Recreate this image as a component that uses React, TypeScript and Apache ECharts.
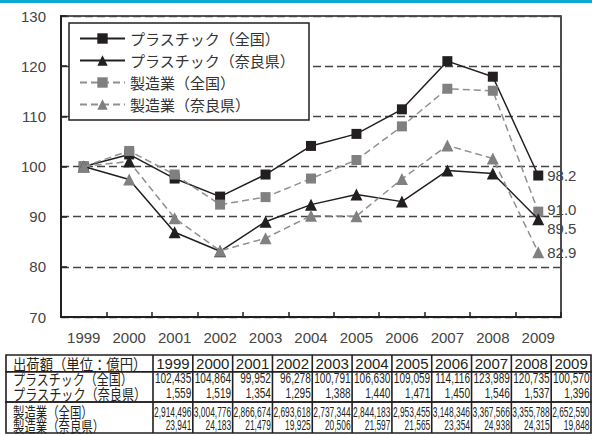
import React, { useEffect, useRef } from 'react';
import * as echarts from 'echarts';

// ---- data ----
const years = ['1999', '2000', '2001', '2002', '2003', '2004', '2005', '2006', '2007', '2008', '2009'];
const seriesNames = ['プラスチック（全国）', 'プラスチック（奈良県）', '製造業（全国）', '製造業（奈良県）'];
// index values (1999 = 100) as drawn in the chart
const plasticNationalIdx = [100, 102.4, 97.6, 94.0, 98.4, 104.1, 106.5, 111.4, 121.0, 117.9, 98.2];
const plasticNaraIdx = [100, 97.4, 86.9, 83.1, 89.0, 92.4, 94.4, 93.0, 99.2, 98.6, 89.5];
const mfgNationalIdx = [100, 103.1, 98.4, 92.4, 93.9, 97.6, 101.3, 108.0, 115.5, 115.1, 91.0];
const mfgNaraIdx = [100, 101.0, 89.7, 83.2, 85.7, 90.2, 90.1, 97.5, 104.2, 101.6, 82.9];
// table: shipment values (unit: 100 million yen)
const tableHeader = '出荷額（単位：億円）';
const rowLabels = ['プラスチック（全国）', 'プラスチック（奈良県）', '製造業（全国）', '製造業（奈良県）'];
const plasticNationalVal = [102435, 104864, 99952, 96278, 100791, 106630, 109059, 114116, 123989, 120735, 100570];
const plasticNaraVal = [1559, 1519, 1354, 1295, 1388, 1440, 1471, 1450, 1546, 1537, 1396];
const mfgNationalVal = [2914496, 3004776, 2866674, 2693618, 2737344, 2844183, 2953455, 3148346, 3367566, 3355788, 2652590];
const mfgNaraVal = [23941, 24183, 21479, 19925, 20506, 21597, 21565, 23354, 24938, 24315, 19848];
const yMin = 70;
const yMax = 130;
const yInterval = 10;

const BLACK = '#231f20';
const GRAY = '#808080';
const GRAY_LINE = '#8f8f8f';
const LABEL = '#444444';
const SANS = "'Liberation Sans', Arial, sans-serif";
const JP = "'Noto Sans CJK JP', sans-serif";

export default function App() {
  const ref = useRef<HTMLDivElement>(null);
  useEffect(() => {
    if (!ref.current) return;
    const chart = echarts.init(ref.current, null, { renderer: 'svg' });

    // ---- table graphic ----
    const tLeft = 6, c0 = 153, tRight = 591;
    const colW = (tRight - c0) / years.length;
    const r0 = 355, r1 = 371.7, r2 = 402, r3 = 433;
    const lw = 1.6;
    const g: any[] = [];
    g.push({ type: 'rect', shape: { x: 0, y: 0, width: 592, height: 3 }, style: { fill: '#0aa8d2' } });
    [[r0, r1], [r1, r2], [r2, r3]].forEach(([a, b]) => {
      g.push({ type: 'rect', shape: { x: tLeft, y: a, width: tRight - tLeft, height: b - a }, style: { fill: 'none', stroke: BLACK, lineWidth: lw } });
    });
    for (let i = 0; i < years.length; i++) {
      const x = c0 + i * colW;
      g.push({ type: 'line', shape: { x1: x, y1: r0, x2: x, y2: r3 }, style: { stroke: BLACK, lineWidth: lw } });
    }
    g.push({ type: 'text', x: 13, y: 363.5, scaleX: 0.89, style: { text: tableHeader, fontSize: 15, fontFamily: JP, fill: BLACK, align: 'left', verticalAlign: 'middle' } });
    const rowYs = [378, 393.5, 411.7, 425.5];
    const rowScale = [0.8, 0.81, 0.76, 0.76];
    rowLabels.forEach((t, i) => {
      g.push({ type: 'text', x: 13, y: rowYs[i], scaleX: rowScale[i], style: { text: t, fontSize: 15, fontFamily: JP, fill: BLACK, align: 'left', verticalAlign: 'middle' } });
    });
    const fmt = (v: number) => v.toLocaleString('en-US');
    const rows = [plasticNationalVal, plasticNaraVal, mfgNationalVal, mfgNaraVal];
    const valScale = [0.72, 0.72, 0.6, 0.6];
    years.forEach((yr, i) => {
      const left = c0 + i * colW;
      g.push({ type: 'text', x: left + colW / 2, y: 363.5, style: { text: yr, fontSize: 15, fontFamily: SANS, fill: BLACK, align: 'center', verticalAlign: 'middle' } });
      rows.forEach((arr, r) => {
        g.push({ type: 'text', x: left + colW - 1.5, y: rowYs[r], scaleX: valScale[r], style: { text: fmt(arr[i]), fontSize: 14, fontFamily: SANS, fill: BLACK, align: 'right', verticalAlign: 'middle' } });
      });
    });

    const mk = (name: string, data: any[], color: string, lineColor: string, dashed: boolean, symbol: string, size: number, z: number, labelOffset: number[]) => ({
      name,
      type: 'line',
      data,
      z,
      symbol,
      symbolSize: size,
      showAllSymbol: true,
      itemStyle: { color, opacity: 1 },
      lineStyle: { color: lineColor, width: 1.5, type: dashed ? [7, 4] : 'solid' },
      endLabel: {
        show: true,
        formatter: (p: any) => Number(p.value).toFixed(1),
        color: LABEL,
        fontSize: 15,
        fontWeight: 'normal',
        fontFamily: SANS,
        distance: 9,
        offset: labelOffset,
      },
      emphasis: { disabled: true },
    });

    // marker colours at 2000 are swapped in the original chart for the Nara series
    const naraPlastic = plasticNaraIdx.map((v, i) => (i === 1 ? { value: v, itemStyle: { color: GRAY } } : v));
    const naraMfg = mfgNaraIdx.map((v, i) => (i === 1 ? { value: v, itemStyle: { color: BLACK } } : v));

    chart.setOption({
      animation: false,
      backgroundColor: '#fff',
      grid: { left: 61, right: 31, top: 16, bottom: 118, show: true, borderColor: BLACK, borderWidth: 1.6, backgroundColor: 'transparent' },
      legend: {
        orient: 'vertical',
        left: 69,
        top: 23,
        padding: [8, 14, 8, 10],
        itemGap: 7,
        itemWidth: 45,
        itemHeight: 13,
        borderColor: BLACK,
        borderWidth: 1.5,
        backgroundColor: '#fff',
        data: seriesNames,
        textStyle: { fontSize: 15, fontFamily: JP, color: '#333' },
        selectedMode: false,
      },
      xAxis: {
        type: 'category',
        data: years,
        boundaryGap: true,
        axisLine: { lineStyle: { color: BLACK, width: 2 } },
        axisTick: { show: true, inside: true, length: 5, lineStyle: { color: BLACK, width: 1.5 } },
        axisLabel: { fontSize: 15, fontWeight: 'normal', fontFamily: SANS, color: LABEL, margin: 13, interval: 0 },
        splitLine: { show: false },
      },
      yAxis: {
        type: 'value',
        min: yMin,
        max: yMax,
        interval: yInterval,
        axisLine: { show: true, lineStyle: { color: BLACK, width: 2 } },
        axisTick: { show: true, inside: true, length: 6, lineStyle: { color: BLACK, width: 1.5 } },
        axisLabel: { fontSize: 15, fontWeight: 'normal', fontFamily: SANS, color: LABEL, margin: 15 },
        splitLine: { show: true, lineStyle: { color: '#444', width: 1.3, type: [8, 4] } },
      },
      series: [
        mk(seriesNames[0], plasticNationalIdx, BLACK, BLACK, false, 'rect', 10, 2, [0, 0]),
        mk(seriesNames[1], naraPlastic, BLACK, BLACK, false, 'triangle', 12, 4, [0, 9]),
        mk(seriesNames[2], mfgNationalIdx, GRAY, GRAY_LINE, true, 'rect', 10, 3, [0, -2]),
        mk(seriesNames[3], naraMfg, GRAY, GRAY_LINE, true, 'triangle', 12, 5, [0, 0]),
      ],
      graphic: g,
    });
    return () => chart.dispose();
  }, []);
  return <div ref={ref} style={{ position: 'fixed', left: 0, top: 0, width: 592, height: 435, background: '#fff' }} />;
}
